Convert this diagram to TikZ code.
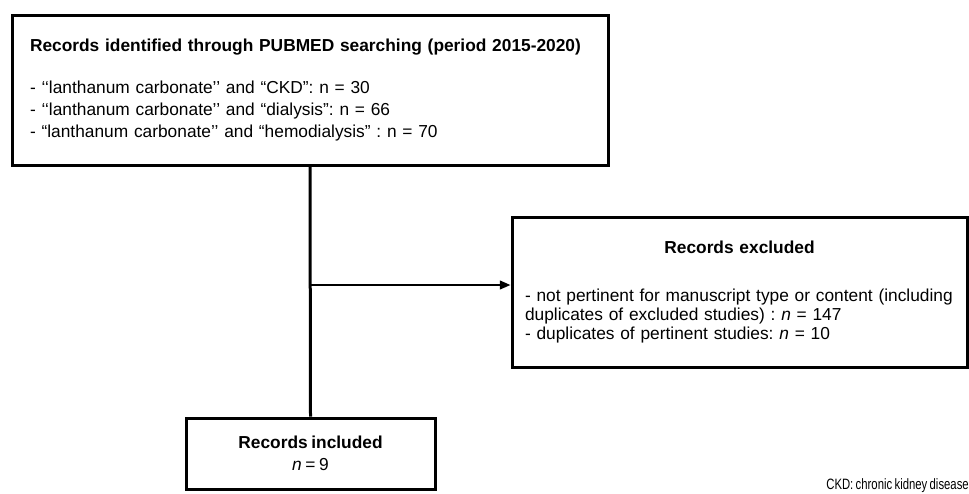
\documentclass[tikz,border=0pt]{standalone}
\usepackage{fontspec}
\setmainfont{Liberation Sans}[WordSpace=0.75]
\usetikzlibrary{arrows.meta}
\frenchspacing

\begin{document}
\begin{tikzpicture}[x=0.75pt, y=-0.75pt,
  box/.style={draw, line width=2.25pt, inner ysep=0pt},
  font=\fontsize{13}{16.5}\selectfont]

\useasboundingbox (0,0) rectangle (969,493);

\node [box, text width=420pt, inner xsep=13.5pt, minimum height=112.5pt, align=left] (search) at (310,90)
  {\textbf{Records identified through PUBMED searching (period 2015-2020)}\\[15pt]
   - ‘‘lanthanum carbonate’’ and “CKD”: n = 30\\
   - ‘‘lanthanum carbonate’’ and “dialysis”: n = 66\\
   - “lanthanum carbonate’’ and “hemodialysis” : n = 70};

\node [box, text width=321.75pt, inner xsep=9.75pt, minimum height=112.5pt,
  font=\fontsize{13}{14.25}\selectfont] (excl) at (739.5,292)
  {\centering\textbf{Records excluded}\par\vspace{21.75pt}
   \raggedright - not pertinent for manuscript type or content (including\\
   duplicates of excluded studies) : \textit{n} = 147\\
   - duplicates of pertinent studies: \textit{n} = 10};

\node [box, minimum width=186.75pt, minimum height=53.25pt, align=center] (incl) at (310.5,453.5)
  {\textbf{Records included}\\ \textit{n} = 9};

\node [anchor=base east, inner sep=0pt, font=\fontsize{11.25}{12}\selectfont] (note) at (969,489)
  {\scalebox{0.755}[1]{CKD: chronic kidney disease}};

\coordinate (split) at (310,285);

\draw [line width=2.25pt] (search.south) -- (incl.north);
\draw [-{Triangle[length=8pt,width=6.5pt]}, line width=1.5pt] (split) -- (split -| excl.west);

\end{tikzpicture}
\end{document}
